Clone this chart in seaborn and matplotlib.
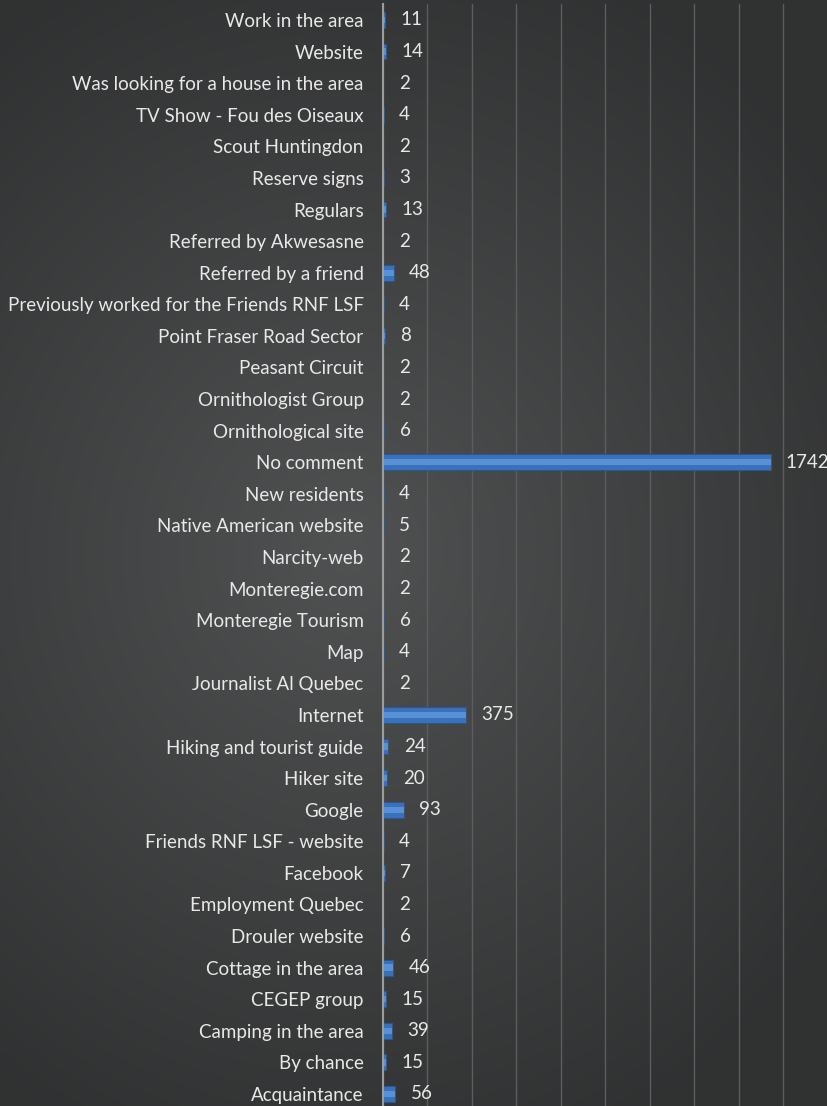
import numpy as np
import pandas as pd
import matplotlib
matplotlib.use("Agg")
import matplotlib.pyplot as plt
import seaborn as sns

sources = [
    "Work in the area", "Website", "Was looking for a house in the area",
    "TV Show - Fou des Oiseaux", "Scout Huntingdon", "Reserve signs", "Regulars",
    "Referred by Akwesasne", "Referred by a friend",
    "Previously worked for the Friends RNF LSF", "Point Fraser Road Sector",
    "Peasant Circuit", "Ornithologist Group", "Ornithological site", "No comment",
    "New residents", "Native American website", "Narcity-web", "Monteregie.com",
    "Monteregie Tourism", "Map", "Journalist Al Quebec", "Internet",
    "Hiking and tourist guide", "Hiker site", "Google", "Friends RNF LSF - website",
    "Facebook", "Employment Quebec", "Drouler website", "Cottage in the area",
    "CEGEP group", "Camping in the area", "By chance", "Acquaintance",
]
counts = [11, 14, 2, 4, 2, 3, 13, 2, 48, 4, 8, 2, 2, 6, 1742, 4, 5, 2, 2, 6, 4, 2,
          375, 24, 20, 93, 4, 7, 2, 6, 46, 15, 39, 15, 56]

df = pd.DataFrame({"Source": sources, "Count": counts})

sns.set_style("dark")
plt.rcParams["font.family"] = ["Lato", "DejaVu Sans"]
text_col = "#e8e8e8"

fig = plt.figure(figsize=(8.28, 11.06), dpi=100)

# dark radial-ish background gradient
bg = fig.add_axes([0, 0, 1, 1], zorder=0)
yy, xx = np.mgrid[0:1:300j, 0:1:230j]
d = np.sqrt(((xx - 0.42) / 0.75) ** 2 + ((yy - 0.5) / 0.6) ** 2)
shade = np.clip(0.315 - 0.13 * d, 0.19, 0.32)
img = np.dstack([shade, shade + 0.003, shade + 0.006])
bg.imshow(img, aspect="auto", extent=[0, 1, 0, 1], interpolation="bilinear")
bg.axis("off")

ax = fig.add_axes([383 / 828, -0.0034, 445 / 828, 0.9996], zorder=1)
ax.set_facecolor("none")

sns.barplot(data=df, x="Count", y="Source", color="#3a72ba", width=0.5,
            saturation=1, edgecolor="#2a5794", linewidth=0.8, ax=ax)
sns.barplot(data=df, x="Count", y="Source", color="#5891d6", width=0.2,
            saturation=1, linewidth=0, ax=ax)

ax.bar_label(ax.containers[0], labels=[str(v) for v in counts], padding=11,
             color=text_col, fontsize=13.5)

ax.set_xlim(0, 2000)
ax.set_xticks(np.arange(0, 2001, 200))
ax.set_xticklabels([])
ax.grid(axis="x", color="#5b5d5e", linewidth=1)
ax.grid(axis="y", visible=False)
ax.tick_params(axis="both", length=0)
ax.tick_params(axis="y", pad=14, labelcolor=text_col, labelsize=13.5)
ax.set_xlabel("")
ax.set_ylabel("")
for side in ["top", "right", "bottom"]:
    ax.spines[side].set_visible(False)
ax.spines["left"].set_color("#9c9c9c")
ax.spines["left"].set_linewidth(1.5)
ax.spines["left"].set_zorder(5)

fig.savefig("out.png", dpi=100)
